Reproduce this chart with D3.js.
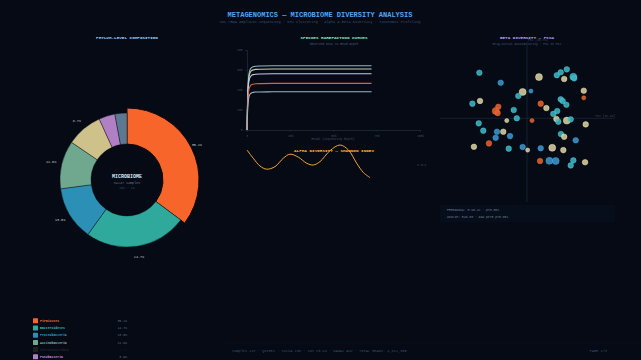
<!DOCTYPE html>
<html lang="en">
<head>
<meta charset="UTF-8">
<title>Metagenomics - Microbiome Diversity</title>
<script src="https://cdn.jsdelivr.net/npm/d3@7"></script>
<style>
  html, body { margin: 0; padding: 0; background: #050a15; overflow: hidden; }
  svg { display: block; font-family: "Liberation Mono", "DejaVu Sans Mono", monospace; }
</style>
</head>
<body>
<div id="chart"></div>
<script>
// ---- data ----
// phylum composition (%)
const phyla = ["Firmicutes", "Bacteroidetes", "Proteobacteria", "Actinobacteria", "Verrucomicrobia", "Fusobacteria", "Others"];
const phylumPct = [35.2, 24.7, 13.0, 11.6, 8.7, 3.9, 2.9];
const phylumColors = ["#f7652b", "#2fa99b", "#2c8fb6", "#6fa88e", "#cfc18a", "#b07fc4", "#5d7891"];

// rarefaction: reads (k) vs observed OTUs, five samples
const rareDepth = [0, 0.4, 0.8, 1.2, 1.8, 2.5, 3.5, 5, 8, 15, 30, 50, 72];
const rareSamples = [
  [0, 176, 250, 282, 302, 311, 316, 319, 320, 321, 321, 321, 321],
  [0, 168, 238, 268, 287, 296, 300, 303, 304, 305, 305, 305, 305],
  [0, 155, 219, 247, 264, 272, 277, 279, 280, 281, 281, 281, 281],
  [0, 128, 182, 205, 219, 226, 229, 231, 232, 233, 233, 233, 233],
  [0, 105, 149, 168, 180, 185, 188, 190, 190, 191, 191, 191, 191]
];
const rareColors = ["#8db5cd", "#c8d3a2", "#c4c7ef", "#d4653d", "#9fb3c3"];
const rareXTicks = [0, 25, 50, 75, 100];
const rareYTicks = [0, 100, 200, 300, 400];

// alpha diversity (Shannon) along the same read axis
const alphaDepth = [0, 3.6, 7.5, 11.4, 16.2, 21.0, 24.9, 29.7, 34.5, 38.3, 42.2, 48.0, 53.8, 58.6, 63.4, 67.3, 71.1];
const alphaShannon = [4.0, 3.59, 3.2, 3.04, 3.17, 3.59, 3.79, 3.64, 3.34, 3.25, 3.42, 3.97, 4.25, 4.0, 3.34, 2.87, 2.62];
const alphaMean = 3.25;

// beta diversity PCoA
const pcGroups = ["Healthy", "Treated", "Dysbiosis", "Control"];
const pcColors = ["#3db3bf", "#d9cd9d", "#e2602c", "#3a93c9"];
const pc1 = [-0.219, -0.121, 0.055, 0.137, 0.155, 0.183, 0.171, 0.213, 0.217, 0.261, 0.261, -0.020, -0.040, 0.018, -0.251,
  -0.216, -0.132, -0.144, -0.135, -0.061, 0.063, 0.089, 0.155, 0.164, 0.181, 0.139, 0.121, -0.093, -0.047, 0.023,
  0.135, 0.144, 0.183, 0.201, 0.270, -0.222, -0.201, -0.138, -0.109, -0.078, 0.156, 0.171, 0.224, -0.144, -0.244,
  -0.175, -0.084, -0.020, 0.003, 0.063, 0.116, 0.167, 0.060, 0.103, 0.132, 0.213, 0.201, 0.267];
const pc2 = [0.218, 0.170, 0.197, 0.206, 0.220, 0.234, 0.188, 0.199, 0.191, 0.132, 0.098, 0.126, 0.107, 0.130, 0.070,
  0.083, 0.055, 0.035, 0.025, 0.040, 0.070, 0.049, 0.091, 0.083, 0.065, 0.035, 0.021, -0.011, 0.000, -0.011,
  -0.003, -0.016, -0.011, -0.005, -0.029, -0.024, -0.059, -0.064, -0.064, -0.085, -0.075, -0.088, -0.105, -0.093, -0.136,
  -0.120, -0.145, -0.137, -0.152, -0.143, -0.141, -0.152, -0.204, -0.203, -0.204, -0.201, -0.225, -0.210];
const pcGroup = [0, 3, 1, 0, 0, 0, 1, 0, 0, 1, 2, 1, 0, 3, 0,
  1, 2, 2, 2, 0, 2, 1, 0, 0, 0, 0, 0, 1, 0, 2,
  1, 0, 1, 0, 1, 0, 0, 3, 1, 3, 0, 1, 3, 3, 1,
  2, 0, 3, 1, 3, 1, 1, 2, 3, 3, 0, 0, 1];
const pcRichness = [3, 3, 5, 3, 3, 3, 3, 5, 3, 3, 1, 5, 3, 1, 3,
  3, 3, 5, 3, 3, 3, 3, 3, 3, 3, 3, 3, 1, 3, 1,
  3, 3, 5, 3, 3, 3, 3, 3, 3, 3, 3, 3, 3, 3, 3,
  3, 3, 3, 1, 3, 5, 3, 3, 5, 5, 3, 3, 3];

// ---- canvas ----
const W = 641, H = 360;
const svg = d3.select("#chart").append("svg")
  .attr("width", W).attr("height", H);

svg.append("rect").attr("width", W).attr("height", H).attr("fill", "#050a15");

// header
svg.append("text").attr("x", 320).attr("y", 17)
  .attr("text-anchor", "middle").attr("font-size", 7).attr("font-weight", "bold")
  .attr("fill", "#4ea6f5")
  .text("METAGENOMICS — MICROBIOME DIVERSITY ANALYSIS");
svg.append("text").attr("x", 320).attr("y", 23.2)
  .attr("text-anchor", "middle").attr("font-size", 3.65).attr("fill", "#34507a")
  .text("16S rRNA Amplicon Sequencing · OTU Clustering · Alpha & Beta Diversity · Taxonomic Profiling");

function panelTitle(x, title, color, sub) {
  svg.append("text").attr("x", x).attr("y", 38.6)
    .attr("text-anchor", "middle").attr("font-size", 4.3).attr("font-weight", "bold")
    .attr("fill", color).text(title);
  if (sub) {
    svg.append("text").attr("x", x).attr("y", 44.6)
      .attr("text-anchor", "middle").attr("font-size", 3).attr("fill", "#4a6080").text(sub);
  }
}
panelTitle(127, "PHYLUM-LEVEL COMPOSITION", "#9ccfff");
panelTitle(334, "SPECIES RAREFACTION CURVES", "#86e8c4", "Observed OTUs vs Read Depth");
panelTitle(527, "BETA DIVERSITY — PCoA", "#b9a0f5", "Bray-Curtis Dissimilarity · PC1 vs PC2");

// ---- footer ----
svg.append("line").attr("x1", 225).attr("x2", W).attr("y1", 343).attr("y2", 343)
  .attr("stroke", "#0c1526").attr("stroke-width", 0.6);
svg.append("text").attr("x", 232).attr("y", 352).attr("font-size", 3.6).attr("fill", "#3c5272")
  .text("Samples 247 · QIIME2 · SILVA 138 · 16S V3-V4 · DADA2 ASV · TOTAL READS: 4,812,330");
svg.append("text").attr("x", 607).attr("y", 352).attr("text-anchor", "end").attr("font-size", 3.6)
  .attr("fill", "#3c5272").text("PAGE 1/3");

// ---- donut ----
const cx = 127, cy = 180;
const pie = d3.pie().sort(null).value(d => d)(phylumPct);
const arc = d3.arc().innerRadius(36).outerRadius((d, i) => i === 0 ? 72 : 67);
const labelArc = d3.arc().innerRadius(78).outerRadius(78);

const donut = svg.append("g").attr("transform", `translate(${cx},${cy})`);
donut.selectAll("path.slice")
  .data(pie)
  .enter().append("path")
  .attr("class", "slice")
  .attr("d", (d, i) => arc(d, i))
  .attr("fill", (d, i) => phylumColors[i])
  .attr("stroke", (d, i) => i === 0 ? "#1a0a05" : "#050a15")
  .attr("stroke-width", (d, i) => i === 0 ? 1 : 0.4);

donut.selectAll("text.pct")
  .data(pie.filter(d => d.data >= 5))
  .enter().append("text")
  .attr("class", "pct")
  .attr("transform", d => `translate(${labelArc.centroid(d)})`)
  .attr("text-anchor", "middle").attr("dy", "0.35em")
  .attr("font-size", 3.4).attr("fill", "#c9d3de")
  .text(d => d.data.toFixed(1) + "%");

donut.append("circle").attr("r", 35.5).attr("fill", "#050a15");
donut.append("text").attr("y", -2.5).attr("text-anchor", "middle")
  .attr("font-size", 5).attr("font-weight", "bold").attr("fill", "#d6e8ff").text("MICROBIOME");
donut.append("text").attr("y", 3.6).attr("text-anchor", "middle")
  .attr("font-size", 3.4).attr("fill", "#5f7a98").text("n=247 samples");
donut.append("text").attr("y", 9.4).attr("text-anchor", "middle")
  .attr("font-size", 3.2).attr("fill", "#34506e").text("16S · V4");

// legend (only the rows that fit above the bottom edge)
const legend = svg.selectAll(".legend")
  .data(phyla.slice(0, 6))
  .enter().append("g")
  .attr("class", "legend")
  .attr("transform", (d, i) => `translate(33,${320.8 + i * 7.2})`)
  .attr("opacity", (d, i) => i === 4 ? 0.12 : 1);
legend.append("rect")
  .attr("x", 0).attr("y", -2.5).attr("width", 5).attr("height", 5).attr("rx", 0.6)
  .attr("fill", (d, i) => phylumColors[i]);
legend.append("text")
  .attr("x", 7).attr("dy", "0.35em").attr("font-size", 3.2).attr("font-weight", "bold")
  .attr("fill", (d, i) => d3.color(phylumColors[i]).brighter(0.4))
  .text(d => d);
legend.append("text")
  .attr("x", 94).attr("dy", "0.35em").attr("text-anchor", "end")
  .attr("font-size", 3.2).attr("fill", "#5f6f85")
  .text((d, i) => phylumPct[i].toFixed(1) + "%");

// ---- rarefaction ----
const rx = d3.scaleLinear().domain([0, 100]).range([247, 420]);
const ry = d3.scaleLinear().domain([0, 400]).range([130, 50]);

const rareAxisX = svg.append("g").attr("transform", "translate(0,130)")
  .call(d3.axisBottom(rx).tickValues(rareXTicks).tickSize(1.5).tickFormat(d => d === 0 ? "0" : d + "k"));
const rareAxisY = svg.append("g").attr("transform", "translate(247,0)")
  .call(d3.axisLeft(ry).tickValues(rareYTicks).tickSize(1.5));
[rareAxisX, rareAxisY].forEach(a => {
  a.select(".domain").attr("stroke", "#27344a").attr("stroke-width", 0.6);
  a.selectAll(".tick line").attr("stroke", "#27344a").attr("stroke-width", 0.5);
  a.selectAll(".tick text").attr("font-size", 3).attr("fill", "#3d4e66")
    .attr("font-family", "Liberation Mono, monospace");
});
rareAxisX.selectAll(".tick text").attr("dy", "0.9em");
svg.append("text").attr("x", 333).attr("y", 140).attr("text-anchor", "middle")
  .attr("font-size", 3).attr("fill", "#3d4e66").text("Reads (sequencing depth)");

const rareLine = d3.line()
  .x((d, i) => rx(rareDepth[i]))
  .y(d => ry(d))
  .curve(d3.curveMonotoneX);
svg.selectAll(".rare")
  .data(rareSamples)
  .enter().append("path")
  .attr("class", "rare")
  .attr("d", rareLine)
  .attr("fill", "none")
  .attr("stroke", (d, i) => rareColors[i])
  .attr("stroke-width", 1.1);

// ---- alpha diversity ----
const ay = d3.scaleLinear().domain([2.5, 4.5]).range([180, 140]);
svg.append("line")
  .attr("x1", 417).attr("x2", 419.5).attr("y1", ay(alphaMean)).attr("y2", ay(alphaMean))
  .attr("stroke", "#4b5a70").attr("stroke-width", 0.5);
svg.append("text").attr("x", 421).attr("y", ay(alphaMean)).attr("dy", "0.35em")
  .attr("font-size", 3).attr("fill", "#4b5a70").text("3.2");

svg.append("text").attr("x", 334).attr("y", 151.5).attr("text-anchor", "middle")
  .attr("font-size", 4.3).attr("font-weight", "bold").attr("fill", "#ffb443")
  .text("ALPHA DIVERSITY — SHANNON INDEX");

const alphaLine = d3.line()
  .x((d, i) => rx(alphaDepth[i]))
  .y(d => ay(d))
  .curve(d3.curveCatmullRom);
svg.append("path")
  .datum(alphaShannon)
  .attr("d", alphaLine)
  .attr("fill", "none")
  .attr("stroke", "#f2a63a")
  .attr("stroke-width", 1);

// ---- PCoA ----
const px = d3.scaleLinear().domain([-0.4, 0.4]).range([440, 614]);
const py = d3.scaleLinear().domain([-0.4, 0.36]).range([202, 43]);
const pr = d3.scaleLinear().domain([1, 5]).range([2.1, 3.5]);

svg.append("line")
  .attr("x1", px(-0.4)).attr("x2", px(0.4)).attr("y1", py(0)).attr("y2", py(0))
  .attr("stroke", "#1e2a3c").attr("stroke-width", 0.7);
svg.append("line")
  .attr("x1", px(0)).attr("x2", px(0)).attr("y1", py(-0.4)).attr("y2", py(0.36))
  .attr("stroke", "#1e2a3c").attr("stroke-width", 0.7);
svg.append("text").attr("x", px(0.36)).attr("y", py(0) - 1.5).attr("text-anchor", "middle")
  .attr("font-size", 3).attr("fill", "#3d4e66").text("PC1 (32.4%)");
svg.append("text").attr("x", px(0.05)).attr("y", 41).attr("text-anchor", "middle")
  .attr("font-size", 3).attr("fill", "#3d4e66").text("PC2 (18.7%)");

svg.append("g").selectAll("circle")
  .data(pc1)
  .enter().append("circle")
  .attr("cx", d => px(d))
  .attr("cy", (d, i) => py(pc2[i]))
  .attr("r", (d, i) => pr(pcRichness[i]))
  .attr("fill", (d, i) => pcColors[pcGroup[i]])
  .attr("fill-opacity", 0.88)
  .attr("stroke", (d, i) => d3.color(pcColors[pcGroup[i]]).brighter(0.6))
  .attr("stroke-width", 0.4);

// stats box
svg.append("rect").attr("x", 440).attr("y", 205).attr("width", 175).attr("height", 17)
  .attr("fill", "#070e1b");
svg.append("text").attr("x", 447).attr("y", 211.2).attr("font-size", 3.1).attr("fill", "#6d7f99")
  .text("PERMANOVA: R²=0.42 · p<0.001");
svg.append("text").attr("x", 447).attr("y", 217.6).attr("font-size", 3.1).attr("fill", "#6d7f99")
  .text("ANOSIM: R=0.68 · 999 perm p<0.001");
</script>
</body>
</html>
